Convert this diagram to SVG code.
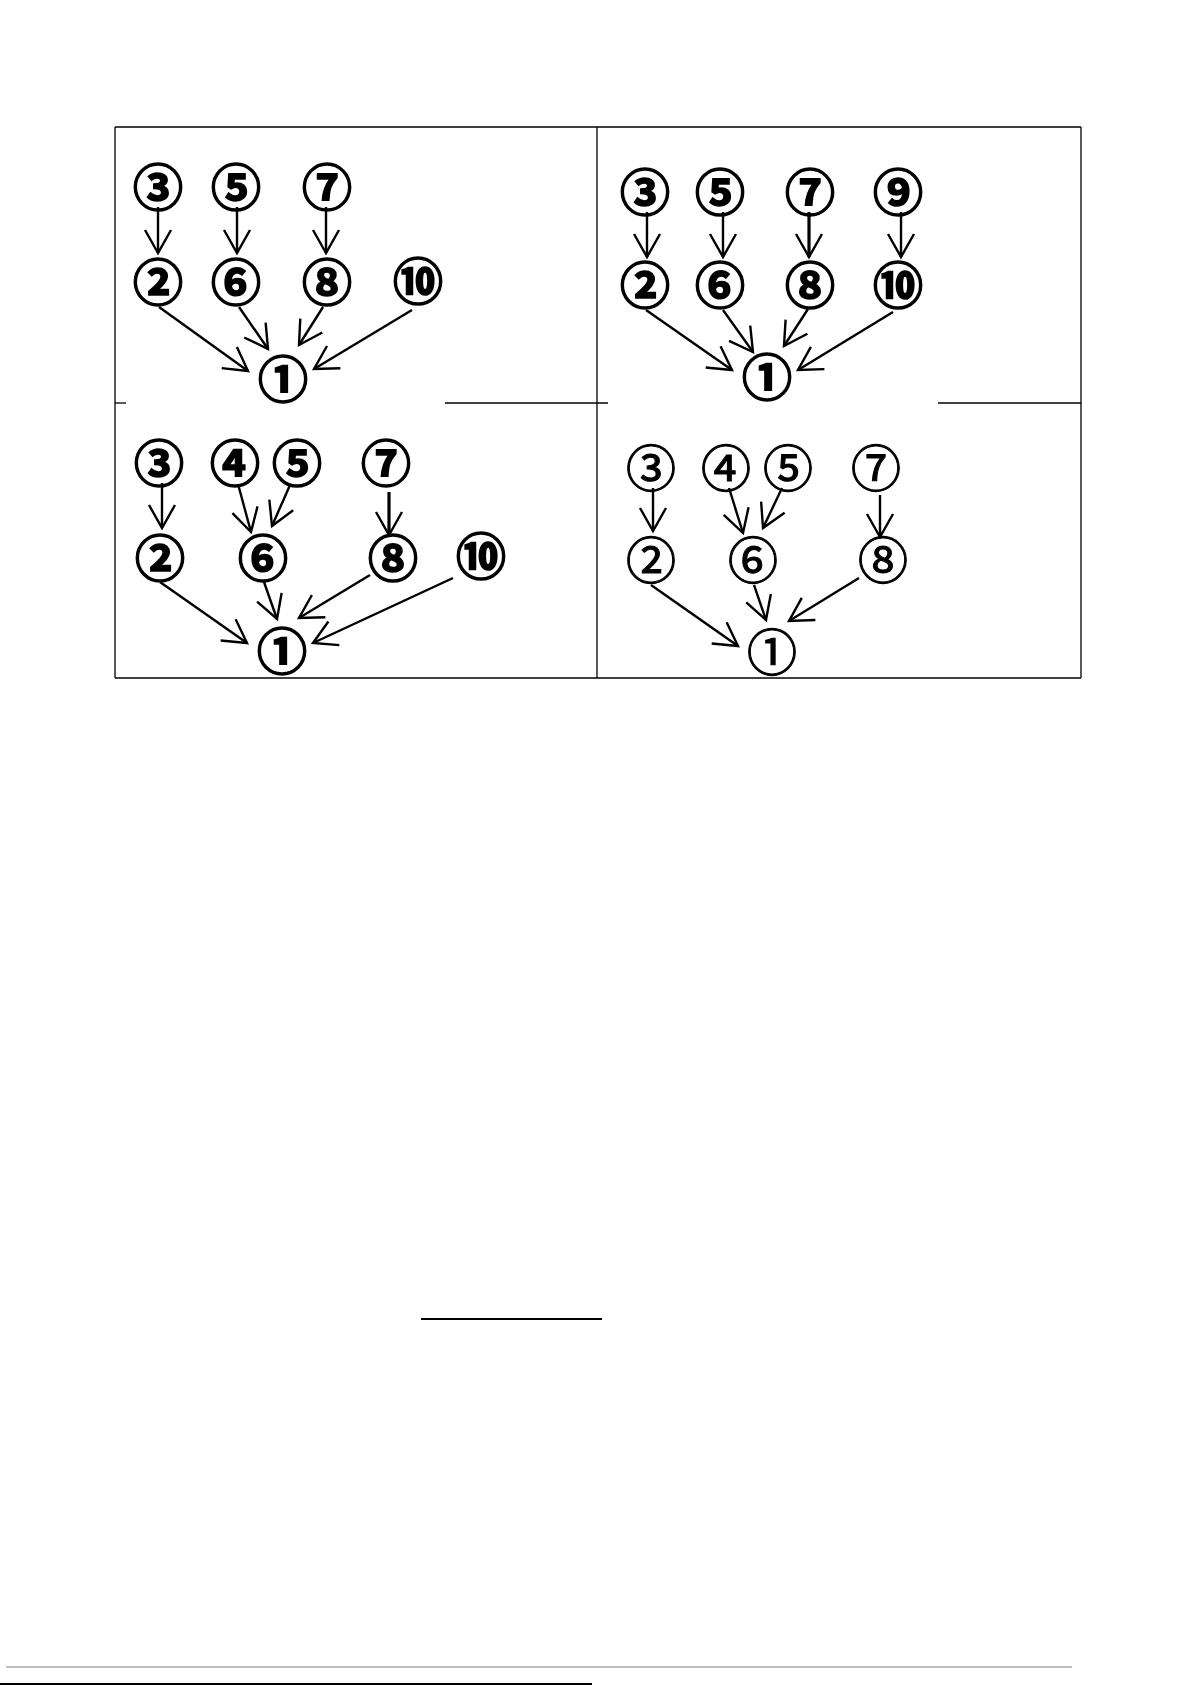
<svg xmlns="http://www.w3.org/2000/svg" width="1191" height="1685" viewBox="0 0 1191 1685">
<defs>
<marker id="ah" markerUnits="userSpaceOnUse" markerWidth="40" markerHeight="40" viewBox="-30 -20 40 40" refX="0" refY="0" orient="auto" overflow="visible">
<path d="M-23,-13 L0,0 L-23,13" fill="none" stroke="#000" stroke-width="2.4" stroke-linejoin="miter"/>
</marker>
</defs>
<style>
.frame{stroke:#000;stroke-width:1.3;fill:none}
.c{stroke:#000;stroke-width:2.4;fill:none;marker-end:url(#ah)}
.ck{stroke-width:3.2}
.n{font-family:"Noto Sans CJK JP","Noto Sans CJK SC",sans-serif;font-size:50px;font-weight:700;text-anchor:middle;dominant-baseline:central;fill:#000;stroke:#000;stroke-width:1.6}
.t{font-weight:400;stroke-width:1.1}
</style>
<rect width="1191" height="1685" fill="#fff"/>
<g id="frame" class="frame">
<line x1="115" y1="127" x2="1081" y2="127"/>
<line x1="115" y1="678" x2="1081" y2="678"/>
<line x1="115" y1="127" x2="115" y2="678"/>
<line x1="597" y1="127" x2="597" y2="678"/>
<line x1="1081" y1="127" x2="1081" y2="678"/>
<line x1="115" y1="403" x2="126" y2="403"/>
<line x1="445" y1="403" x2="608" y2="403"/>
<line x1="938" y1="403" x2="1081" y2="403"/>
</g>
<g id="connectors">
<line class="c" x1="158" y1="207" x2="158" y2="253"/>
<line class="c" x1="237" y1="207" x2="237" y2="253"/>
<line class="c" x1="326" y1="207" x2="326" y2="253"/>
<line class="c" x1="159" y1="307" x2="248" y2="371"/>
<line class="c" x1="239" y1="307" x2="268" y2="349"/>
<line class="c" x1="323" y1="307" x2="299" y2="345"/>
<line class="c" x1="412" y1="310" x2="314" y2="369"/>
<line class="c" x1="647" y1="212" x2="647" y2="257"/>
<line class="c" x1="723" y1="212" x2="723" y2="257"/>
<line class="c ck" x1="809" y1="212" x2="809" y2="257"/>
<line class="c" x1="901" y1="212" x2="901" y2="257"/>
<line class="c" x1="646" y1="310" x2="732" y2="370"/>
<line class="c" x1="723" y1="310" x2="753" y2="352"/>
<line class="c" x1="808" y1="309" x2="784" y2="346"/>
<line class="c" x1="893" y1="312" x2="798" y2="370"/>
<line class="c" x1="162" y1="483" x2="162" y2="528"/>
<line class="c" x1="238" y1="484" x2="251" y2="532"/>
<line class="c" x1="290" y1="485" x2="272" y2="526"/>
<line class="c ck" x1="389" y1="492" x2="389" y2="535"/>
<line class="c" x1="160" y1="582" x2="247" y2="643"/>
<line class="c" x1="264" y1="582" x2="277" y2="619"/>
<line class="c" x1="370" y1="575" x2="299" y2="618"/>
<line class="c" x1="453" y1="578" x2="313" y2="643"/>
<line class="c" x1="653" y1="488" x2="653" y2="531"/>
<line class="c" x1="729" y1="488" x2="743" y2="533"/>
<line class="c" x1="782" y1="488" x2="763" y2="528"/>
<line class="c" x1="880" y1="495" x2="880" y2="537"/>
<line class="c" x1="651" y1="585" x2="738" y2="646"/>
<line class="c" x1="754" y1="585" x2="766" y2="620"/>
<line class="c" x1="859" y1="578" x2="789" y2="621"/>
</g>
<g id="p1-n3"><text class="n" x="158" y="184">③</text></g>
<g id="p1-n5"><text class="n" x="236" y="184">⑤</text></g>
<g id="p1-n7"><text class="n" x="327" y="184">⑦</text></g>
<g id="p1-n2"><text class="n" x="158" y="279">②</text></g>
<g id="p1-n6"><text class="n" x="236" y="279">⑥</text></g>
<g id="p1-n8"><text class="n" x="327" y="279">⑧</text></g>
<g id="p1-n10"><text class="n" x="418" y="278">⑩</text></g>
<g id="p1-n1"><text class="n" x="283" y="376">①</text></g>
<g id="p2-n3"><text class="n" x="645" y="189">③</text></g>
<g id="p2-n5"><text class="n" x="720" y="189">⑤</text></g>
<g id="p2-n7"><text class="n" x="810" y="189">⑦</text></g>
<g id="p2-n9"><text class="n" x="898" y="189">⑨</text></g>
<g id="p2-n2"><text class="n" x="645" y="282">②</text></g>
<g id="p2-n6"><text class="n" x="720" y="282">⑥</text></g>
<g id="p2-n8"><text class="n" x="810" y="282">⑧</text></g>
<g id="p2-n10"><text class="n" x="898" y="282">⑩</text></g>
<g id="p2-n1"><text class="n" x="767" y="374">①</text></g>
<g id="p3-n3"><text class="n" x="159" y="460">③</text></g>
<g id="p3-n4"><text class="n" x="235" y="460">④</text></g>
<g id="p3-n5"><text class="n" x="297" y="460">⑤</text></g>
<g id="p3-n7"><text class="n" x="386" y="460">⑦</text></g>
<g id="p3-n2"><text class="n" x="160" y="555">②</text></g>
<g id="p3-n6"><text class="n" x="263" y="555">⑥</text></g>
<g id="p3-n8"><text class="n" x="393" y="555">⑧</text></g>
<g id="p3-n10"><text class="n" x="481" y="553">⑩</text></g>
<g id="p3-n1"><text class="n" x="282" y="648">①</text></g>
<g id="p4-n3"><text class="n t" x="651" y="465">③</text></g>
<g id="p4-n4"><text class="n t" x="726" y="465">④</text></g>
<g id="p4-n5"><text class="n t" x="788" y="465">⑤</text></g>
<g id="p4-n7"><text class="n t" x="876" y="465">⑦</text></g>
<g id="p4-n2"><text class="n t" x="651" y="557">②</text></g>
<g id="p4-n6"><text class="n t" x="753" y="557">⑥</text></g>
<g id="p4-n8"><text class="n t" x="883" y="557">⑧</text></g>
<g id="p4-n1"><text class="n t" x="772" y="649">①</text></g>
<g id="page-lines">
<line x1="421" y1="1319" x2="602" y2="1319" stroke="#000" stroke-width="2"/>
<line x1="6" y1="1667" x2="1072" y2="1667" stroke="#808080" stroke-width="1"/>
<line x1="0" y1="1684" x2="592" y2="1684" stroke="#000" stroke-width="2"/>
</g>
</svg>
